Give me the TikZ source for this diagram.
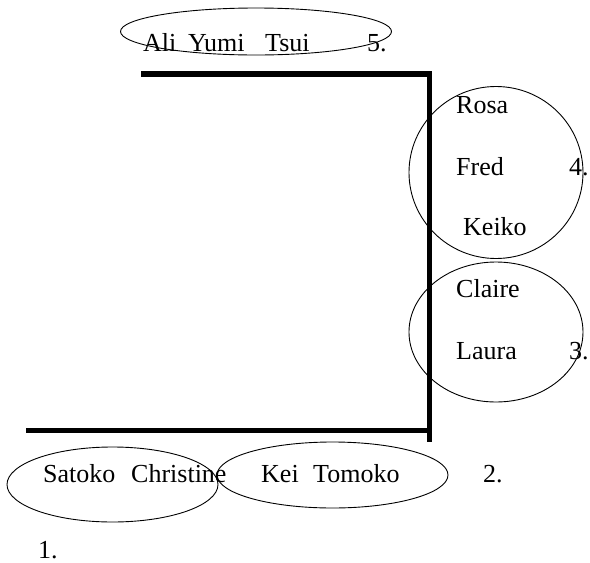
\documentclass[tikz,border=0pt]{standalone}
\usepackage{fontspec}
\setmainfont{Liberation Serif}
\begin{document}
\begin{tikzpicture}[x=1pt,y=-1pt,
  lbl/.style={anchor=base west,inner sep=0pt,font=\fontsize{26}{30}\selectfont},
  ring/.style={draw=black,line width=0.9pt},
  wall/.style={draw=black,line width=5.5pt}]
\useasboundingbox (0,0) rectangle (590,563);
% walls
\coordinate (t0) at (141,74);
\coordinate (tr) at (429.5,74);
\coordinate (br) at (429.5,442);
\coordinate (b0) at (26,430.5);
\coordinate (bj) at (429.5,430.5);
\draw[wall] (t0) -- ([xshift=2.75pt]tr) ;
\draw[wall] ([yshift=-2.75pt]tr) -- (br);
\draw[wall] (b0) -- (bj);
% ellipses
\draw[ring] (256,31.5) ellipse [x radius=135.5, y radius=23.5];
\draw[ring] (496,172.5) ellipse [x radius=87, y radius=86];
\draw[ring] (496,332) ellipse [x radius=87, y radius=70];
\draw[ring] (112.5,484.5) ellipse [x radius=105.5, y radius=37.5];
\draw[ring] (332.5,475) ellipse [x radius=115.5, y radius=33];
% texts
\node[lbl] (ali) at (143,51) {Ali};
\node[lbl] (yumi) at (188,51) {Yumi};
\node[lbl] (tsui) at (265,51) {Tsui};
\node[lbl] (n5) at (367,51) {5.};
\node[lbl] (rosa) at (456,113) {Rosa};
\node[lbl] (fred) at (456,175) {Fred};
\node[lbl] (n4) at (569,175) {4.};
\node[lbl] (keiko) at (463,235) {Keiko};
\node[lbl] (claire) at (456,297) {Claire};
\node[lbl] (laura) at (456,359) {Laura};
\node[lbl] (n3) at (569,359) {3.};
\node[lbl] (satoko) at (43,482) {Satoko};
\node[lbl] (christine) at (131,482) {Christine};
\node[lbl] (kei) at (261,482) {Kei};
\node[lbl] (tomoko) at (313,482) {Tomoko};
\node[lbl] (n2) at (483,482) {2.};
\node[lbl] (n1) at (38,558) {1.};
\end{tikzpicture}
\end{document}
